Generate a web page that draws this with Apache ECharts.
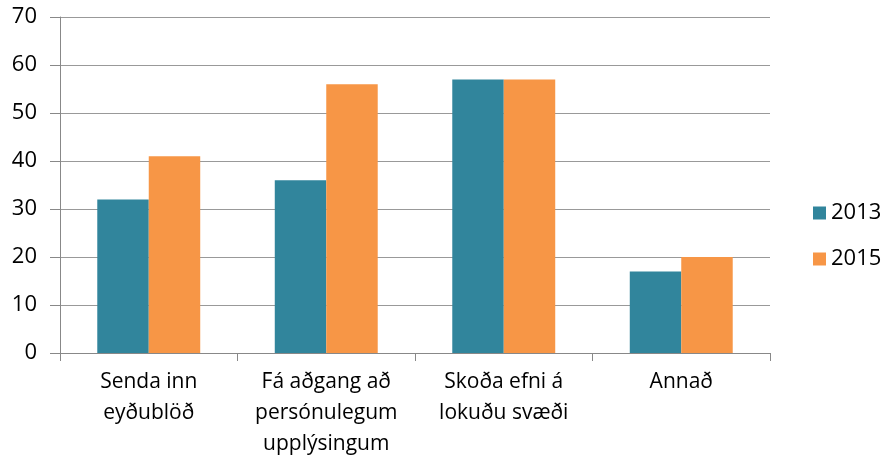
<!DOCTYPE html>
<html>
	<head>
		<meta charset="utf-8" />
		<title></title>
		<script src="https://cdn.jsdelivr.net/npm/echarts@6/dist/echarts.min.js" type="text/javascript" charset="utf-8"></script>
	</head>
	<body style="margin: 0;background: #fff;">
		<div id="chart" style="width: 888px;height: 466px;"></div>
		<script type="text/javascript">
			var categories = ["Senda inn\neyðublöð", "Fá aðgang að\npersónulegum\nupplýsingum", "Skoða efni á\nlokuðu svæði", "Annað"];
			var values2013 = [32, 36, 57, 17];
			var values2015 = [41, 56, 57, 20];
			var yTicks = [0, 70, 10]; // min, max, interval

			var font = "'Open Sans', 'DejaVu Sans', sans-serif";
			var chart = echarts.init(document.getElementById("chart"));

			var option = {
				animation: false,
				textStyle: {fontFamily: font},
				grid: {left: 60, right: 118, top: 17, bottom: 113},
				legend: {
					orient: 'vertical',
					left: 808,
					top: 197,
					itemWidth: 13,
					itemHeight: 13,
					itemGap: 24,
					icon: 'rect',
					textStyle: {fontSize: 22, color: '#000', fontFamily: font},
					data: ['2013', '2015']
				},
				xAxis: {
					type: 'category',
					data: categories,
					axisLine: {lineStyle: {color: '#888', width: 1}},
					axisTick: {show: true, length: 8, alignWithLabel: false, lineStyle: {color: '#888'}},
					axisLabel: {
						interval: 0,
						margin: 14,
						fontSize: 21,
						lineHeight: 31,
						color: '#000',
						fontFamily: font
					}
				},
				yAxis: {
					type: 'value',
					min: yTicks[0],
					max: yTicks[1],
					interval: yTicks[2],
					axisLine: {show: true, lineStyle: {color: '#888'}},
					axisTick: {show: true, length: 10, lineStyle: {color: '#888'}},
					axisLabel: {fontSize: 22, color: '#000', margin: 23, fontFamily: font},
					splitLine: {lineStyle: {color: '#999', width: 1}}
				},
				series: [
					{
						name: '2013',
						type: 'bar',
						data: values2013,
						barGap: '0%',
						barCategoryGap: '42%',
						itemStyle: {color: '#31859C'}
					},
					{
						name: '2015',
						type: 'bar',
						data: values2015,
						barGap: '0%',
						barCategoryGap: '42%',
						itemStyle: {color: '#F79646'}
					}
				]
			};
			chart.setOption(option);
		</script>
	</body>
</html>
